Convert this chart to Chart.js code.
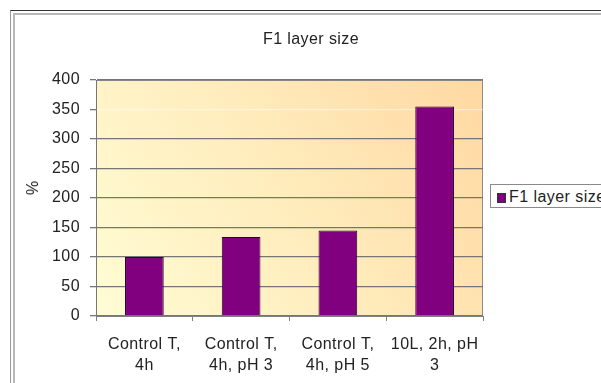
<!DOCTYPE html>
<html>
<head>
<meta charset="utf-8">
<script src="https://cdn.jsdelivr.net/npm/chart.js@4.4.1/dist/chart.umd.min.js"></script>
<style>
  html, body { margin: 0; padding: 0; background: #fff; overflow: hidden; width: 601px; height: 383px; }
  body { position: relative; font-family: "Liberation Sans", Arial, sans-serif; color: #222; }
  #frame { position: absolute; left: 10px; top: 10px; width: 700px; height: 500px;
           border-top: 1px solid #333; border-left: 1px solid #999; }
  #frame::after { content: ''; position: absolute; left: 2px; top: 2px; right: 0; bottom: 0;
           border-top: 2px solid #b8b8b8; border-left: 2px solid #b8b8b8; }
  #chart { position: absolute; left: 0; top: 0; }
  #title { position: absolute; left: 0; top: 29px; width: 622px; text-align: center;
           font-size: 16px; line-height: 20px; letter-spacing: 0.4px; }
  #ylab { position: absolute; left: 33px; top: 188px; font-size: 16px; line-height: 16px;
          transform: translate(-50%, -50%) rotate(-90deg); }
  #legend { position: absolute; left: 490px; top: 184px; width: 140px; height: 22px;
            border: 1px solid #8a8a8a; background: #fff; font-size: 16px; line-height: 22px;
            white-space: nowrap; letter-spacing: 0.45px; }
  #legend .sw { position: absolute; left: 6px; top: 8px; width: 7px; height: 8px;
                background: #800080; border: 1px solid #333; }
  #legend .txt { position: absolute; left: 18px; top: 1px; }
</style>
</head>
<body>
<div id="frame"></div>
<canvas id="chart" width="601" height="383"></canvas>
<div id="title"></div>
<div id="ylab">%</div>
<div id="legend"><span class="sw"></span><span class="txt"></span></div>
<script>
        const chartTitle = 'F1 layer size';
        const seriesName = 'F1 layer size';
        const categories = [
            ['Control T,', '4h'],
            ['Control T,', '4h, pH 3'],
            ['Control T,', '4h, pH 5'],
            ['10L, 2h, pH', '3']
        ];
        const values = [100, 134, 145, 355];
        const yTicks = [0, 50, 100, 150, 200, 250, 300, 350, 400];

        document.getElementById('title').textContent = chartTitle;
        document.querySelector('#legend .txt').textContent = seriesName;

        // the excel text is a bit wider than ours, spread the letters a little
        const spacing = {
            id: 'spacing',
            beforeUpdate(chart) { chart.ctx.letterSpacing = '0.45px'; },
            beforeDraw(chart) { chart.ctx.letterSpacing = '0.45px'; }
        };

        // gradient fill behind the plot area, like the Excel one
        const plotBackground = {
            id: 'plotBackground',
            beforeDraw(chart) {
                const { ctx, chartArea: a } = chart;
                const g = ctx.createLinearGradient(a.left, a.bottom, a.right, a.top);
                g.addColorStop(0, '#fffcd4');
                g.addColorStop(0.5, '#ffecbc');
                g.addColorStop(1, '#ffd8a2');
                ctx.save();
                ctx.fillStyle = g;
                ctx.fillRect(a.left, a.top, a.right - a.left, a.bottom - a.top);
                ctx.strokeStyle = '#8c8c8c';
                ctx.lineWidth = 1;
                ctx.strokeRect(a.left + 0.5, a.top + 0.5, a.right - a.left - 1, a.bottom - a.top);
                ctx.restore();
            }
        };

        const tickFont = { family: '"Liberation Sans", Arial, sans-serif', size: 16 };

        new Chart(document.getElementById('chart'), {
            type: 'bar',
            data: {
                labels: categories,
                datasets: [{
                    label: seriesName,
                    data: values,
                    backgroundColor: '#800080',
                    borderColor: '#2a002a',
                    borderWidth: 1,
                    barPercentage: 0.4,
                    categoryPercentage: 1
                }]
            },
            options: {
                responsive: false,
                animation: false,
                devicePixelRatio: 1,
                layout: { padding: { left: 0, top: 80, right: 118, bottom: 0 } },
                plugins: {
                    legend: { display: false },
                    title: { display: false },
                    tooltip: { enabled: false }
                },
                scales: {
                    x: {
                        afterFit: s => { s.height = 67; },
                        grid: {
                            offset: true,
                            drawOnChartArea: false,
                            drawTicks: true,
                            tickLength: 5,
                            color: '#808080'
                        },
                        border: { color: '#808080' },
                        ticks: {
                            font: { ...tickFont, lineHeight: 1.3 },
                            color: '#222',
                            padding: 13,
                            maxRotation: 0,
                            autoSkip: false
                        }
                    },
                    y: {
                        min: 0,
                        max: 400,
                        afterFit: s => { s.width = 96; },
                        afterBuildTicks: s => { s.ticks = yTicks.map(v => ({ value: v })); },
                        grid: {
                            tickLength: 6,
                            lineWidth: 1.3,
                            color: c => (c.tick && c.tick.value === 350) ? 'rgba(255,255,255,0.45)' : '#767676',
                            tickColor: '#767676'
                        },
                        border: { color: '#767676' },
                        ticks: {
                            font: tickFont,
                            color: '#222',
                            padding: 10
                        }
                    }
                }
            },
            plugins: [spacing, plotBackground]
        });
</script>
</body>
</html>
